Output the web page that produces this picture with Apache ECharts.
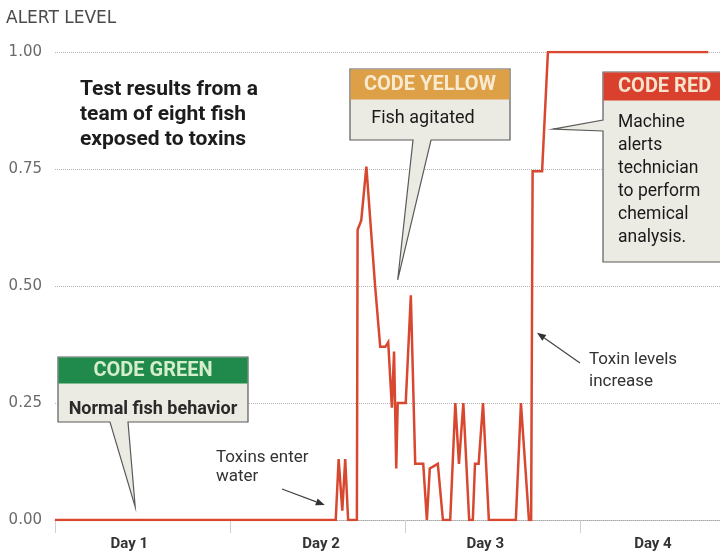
<!DOCTYPE html>
<html>
<head>
<meta charset="utf-8">
<script src="https://cdn.jsdelivr.net/npm/echarts@6/dist/echarts.min.js"></script>
<style>
  html, body { margin: 0; padding: 0; background: #ffffff; }
  #chart { width: 720px; height: 555px; }
</style>
</head>
<body>
<div id="chart"></div>
<script>
// Elapsed time in hours since the start of Day 1
const hours = [0, 38.5, 38.9, 39.4, 39.8, 40.2, 41.4, 41.5, 42.0, 42.7, 43.9, 44.6, 45.3, 45.7,
  46.2, 46.5, 46.8, 47.0, 48.1, 48.8, 49.4, 50.5, 51.0, 51.4, 52.5, 53.2, 54.2, 54.9, 55.4, 56.0,
  56.8, 57.3, 57.6, 58.1, 58.7, 59.5, 63.2, 63.9, 65.0, 65.3, 65.5, 66.8, 67.6, 89.6];
// Alert level reported by the fish monitor
const alertLevel = [0, 0, 0.13, 0.02, 0.13, 0, 0, 0.62, 0.64, 0.755, 0.50, 0.37, 0.37, 0.38,
  0.24, 0.36, 0.11, 0.25, 0.25, 0.48, 0.12, 0.12, 0, 0.11, 0.12, 0, 0, 0.25, 0.12, 0.25,
  0, 0, 0.12, 0.12, 0.25, 0, 0, 0.25, 0, 0, 0.745, 0.745, 1.0, 1.0];

const dayLabels = ['Day 1', 'Day 2', 'Day 3', 'Day 4'];
const dayLabelAt = [10.2, 36.5, 59, 82];
const dayStarts = [0, 24, 48, 72];
const yTickStep = 0.25;

const chart = echarts.init(document.getElementById('chart'));

const TEXT = '#333';
const BOX_FILL = '#ecebe3';
const BOX_EDGE = '#5a5a5a';

chart.setOption({
  animation: false,
  backgroundColor: '#ffffff',
  grid: { left: 55, right: 0, top: 52, bottom: 35, containLabel: false },
  xAxis: {
    type: 'value',
    min: 0,
    max: 91.2,
    axisLine: { show: true, lineStyle: { color: '#aaa', type: 'dotted', width: 1 } },
    axisTick: { show: true, customValues: dayStarts, length: 13, lineStyle: { color: '#cfcfcf' } },
    axisLabel: {
      customValues: dayLabelAt,
      formatter: v => dayLabels[dayLabelAt.indexOf(v)] || '',
      margin: 17,
      color: TEXT,
      fontFamily: 'Roboto',
      fontWeight: 'bold',
      fontSize: 15
    },
    splitLine: { show: false }
  },
  yAxis: {
    type: 'value',
    min: 0,
    max: 1,
    interval: yTickStep,
    axisLine: { show: false },
    axisTick: { show: false },
    axisLabel: {
      formatter: v => v.toFixed(2),
      margin: 13,
      color: '#6a6a6a',
      fontFamily: 'DejaVu Sans',
      fontSize: 15
    },
    splitLine: { show: true, lineStyle: { color: '#b5b5b5', type: 'dotted', width: 1 } }
  },
  series: [{
    type: 'line',
    data: hours.map((h, i) => [h, alertLevel[i]]),
    showSymbol: false,
    lineStyle: { color: '#d8472f', width: 2.5, join: 'miter' },
    z: 5
  }]
});

// Convert a data point to pixel coordinates on the grid
const px = (x, y) => chart.convertToPixel({ gridIndex: 0 }, [x, y]);

// Callout box with a header band and a wedge pointing at a data spot
function callout(opts) {
  const { x, y, w, h, headH, header, headColor, headText, wedge, tip, body, bodyStyle } = opts;
  let pts;
  if (wedge.side === 'bottom') {
    pts = [[x, y], [x + w, y], [x + w, y + h], [wedge.b, y + h], tip, [wedge.a, y + h], [x, y + h]];
  } else {
    pts = [[x, y], [x + w, y], [x + w, y + h], [x, y + h], [x, wedge.b], tip, [x, wedge.a]];
  }
  const els = [
    { type: 'polygon', shape: { points: pts }, style: { fill: BOX_FILL, stroke: BOX_EDGE, lineWidth: 1.2 }, z: 20 },
    { type: 'rect', shape: { x: x + 0.5, y: y + 0.5, width: w - 1, height: headH }, style: { fill: headColor }, z: 21 },
    {
      type: 'text', x: header.x, y: y + headH / 2 + 1, z: 22,
      style: {
        text: header.text, fill: headText, font: 'bold 20px Roboto',
        textAlign: header.align || 'center', textVerticalAlign: 'middle'
      }
    }
  ];
  body.forEach(b => els.push({
    type: 'text', x: b.x, y: b.y, z: 22,
    style: Object.assign({ text: b.text, fill: '#1a1a1a', textAlign: 'center', textVerticalAlign: 'middle' }, bodyStyle)
  }));
  return els;
}

// Thin arrow with a small filled head
function arrow(from, to) {
  const dx = to[0] - from[0], dy = to[1] - from[1];
  const len = Math.hypot(dx, dy);
  const ux = dx / len, uy = dy / len;
  const hl = 9, hw = 3.5;
  const bx = to[0] - ux * hl, by = to[1] - uy * hl;
  return [
    { type: 'line', shape: { x1: from[0], y1: from[1], x2: bx, y2: by }, style: { stroke: '#444', lineWidth: 1.2 }, z: 15 },
    {
      type: 'polygon', z: 15,
      shape: { points: [to, [bx - uy * hw, by + ux * hw], [bx + uy * hw, by - ux * hw]] },
      style: { fill: '#333' }
    }
  ];
}

const graphics = [];

// Axis title
graphics.push({
  type: 'text', x: 6, y: 19, z: 10,
  style: { text: 'ALERT LEVEL', fill: '#4a4a4a', font: '17px "DejaVu Sans"', textVerticalAlign: 'middle' }
});

// Chart heading
graphics.push({
  type: 'text', x: 80, y: 77, z: 10,
  style: {
    text: 'Test results from a\nteam of eight fish\nexposed to toxins',
    fill: '#1c1c1c', font: 'bold 21px Roboto', lineHeight: 25, textVerticalAlign: 'top'
  }
});

// Code green
graphics.push(...callout({
  x: 58, y: 357, w: 190, h: 65, headH: 26,
  header: { text: 'CODE GREEN', x: 153 }, headColor: '#1f8a4b', headText: '#d6eecb',
  wedge: { side: 'bottom', a: 110, b: 128 }, tip: px(11.0, 0.028),
  body: [{ text: 'Normal fish behavior', x: 153, y: 409 }],
  bodyStyle: { font: 'bold 18px Roboto', fill: '#2a2a2a' }
}));

// Code yellow
graphics.push(...callout({
  x: 350, y: 69, w: 160, h: 71, headH: 30,
  header: { text: 'CODE YELLOW', x: 430 }, headColor: '#dea046', headText: '#f7ead0',
  wedge: { side: 'bottom', a: 413, b: 431 }, tip: px(47.0, 0.513),
  body: [{ text: 'Fish agitated', x: 423, y: 118 }],
  bodyStyle: { font: '18px Roboto' }
}));

// Code red
graphics.push(...callout({
  x: 603, y: 72, w: 130, h: 190, headH: 28,
  header: { text: 'CODE RED', x: 618, align: 'left' }, headColor: '#d9412e', headText: '#f6e3cc',
  wedge: { side: 'left', a: 120, b: 131 }, tip: px(68.3, 0.835),
  body: ['Machine', 'alerts', 'technician', 'to perform', 'chemical', 'analysis.']
    .map((t, i) => ({ text: t, x: 618, y: 123 + i * 23 })),
  bodyStyle: { font: '17.5px Roboto', textAlign: 'left' }
}));

// Side notes with arrows
graphics.push({
  type: 'text', x: 216, y: 467, z: 10,
  style: { text: 'Toxins enter\nwater', fill: '#333', font: '17px Roboto', lineHeight: 19, textVerticalAlign: 'middle' }
});
graphics.push(...arrow([282, 489], px(37.0, 0.032)));

graphics.push({
  type: 'text', x: 589, y: 371, z: 10,
  style: { text: 'Toxin levels\nincrease', fill: '#333', font: '17px Roboto', lineHeight: 22, textVerticalAlign: 'middle' }
});
graphics.push(...arrow([580, 363], px(66.1, 0.40)));

chart.setOption({ graphic: graphics });
</script>
</body>
</html>
